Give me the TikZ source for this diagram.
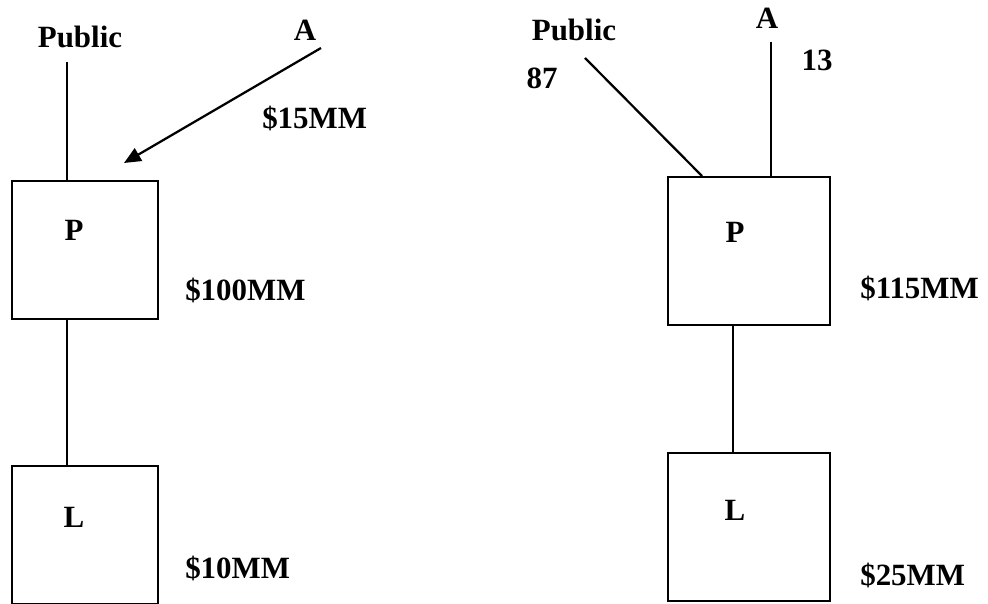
\documentclass[tikz,border=0pt]{standalone}
\usepackage{fontspec}
\setmainfont{Liberation Serif}
\usetikzlibrary{arrows.meta}

\tikzset{
  holding/.style={draw, line width=1.6pt, rectangle, inner sep=0pt},
  tag/.style={font=\fontsize{22}{26}\selectfont\bfseries, inner sep=0pt},
  link/.style={line width=1.6pt}
}

\begin{document}
\begin{tikzpicture}
\useasboundingbox (0,0) rectangle (24.7,15.1);

% before: A buys into P
\node[holding, minimum width=3.65cm, minimum height=3.45cm, anchor=north west] (pleft) at (0.275,10.6) {};
\node[holding, minimum width=3.65cm, minimum height=3.45cm, anchor=north west] (lleft) at (0.275,3.475) {};
\node[tag] (pl) at (1.85,9.35) {P};
\node[tag] (ll) at (1.85,2.175) {L};
\node[tag] (publ) at (2.0,14.175) {Public};
\node[tag] (al) at (7.625,14.35) {A};
\node[tag, anchor=west] (vpl) at (4.625,7.85) {\$100MM};
\node[tag, anchor=west] (vll) at (4.625,0.9) {\$10MM};
\node[tag, anchor=west] (cash) at (6.55,12.15) {\$15MM};
\coordinate (pubtopl) at (1.675,13.55);
\coordinate (afrom) at (8.025,13.9);
\coordinate (ato) at (3.1,11.025);
\draw[link] (pubtopl) -- (pleft.north -| pubtopl);
\draw[link] (pleft.south -| pubtopl) -- (lleft.north -| pubtopl);
\draw[link, -{Triangle[length=0.42cm,width=0.36cm]}] (afrom) -- (ato);

% after: shares 87 / 13
\node[holding, minimum width=4.05cm, minimum height=3.7cm, anchor=north west] (pright) at (16.675,10.7) {};
\node[holding, minimum width=4.05cm, minimum height=3.7cm, anchor=north west] (lright) at (16.675,3.8) {};
\node[tag] (pr) at (18.375,9.3) {P};
\node[tag] (lr) at (18.375,2.35) {L};
\node[tag] (pubr) at (14.35,14.35) {Public};
\node[tag] (ar) at (19.175,14.65) {A};
\node[tag] (shpub) at (13.55,13.15) {87};
\node[tag] (sha) at (20.425,13.6) {13};
\node[tag, anchor=west] (vpr) at (21.5,7.9) {\$115MM};
\node[tag, anchor=west] (vlr) at (21.5,0.725) {\$25MM};
\coordinate (pubtopr) at (14.625,13.65);
\coordinate (pubfoot) at (17.55,10.7);
\coordinate (atopr) at (19.275,14.05);
\coordinate (midr) at (18.325,5);
\draw[link] (pubtopr) -- (pubfoot);
\draw[link] (atopr) -- (pright.north -| atopr);
\draw[link] (pright.south -| midr) -- (lright.north -| midr);
\end{tikzpicture}
\end{document}
